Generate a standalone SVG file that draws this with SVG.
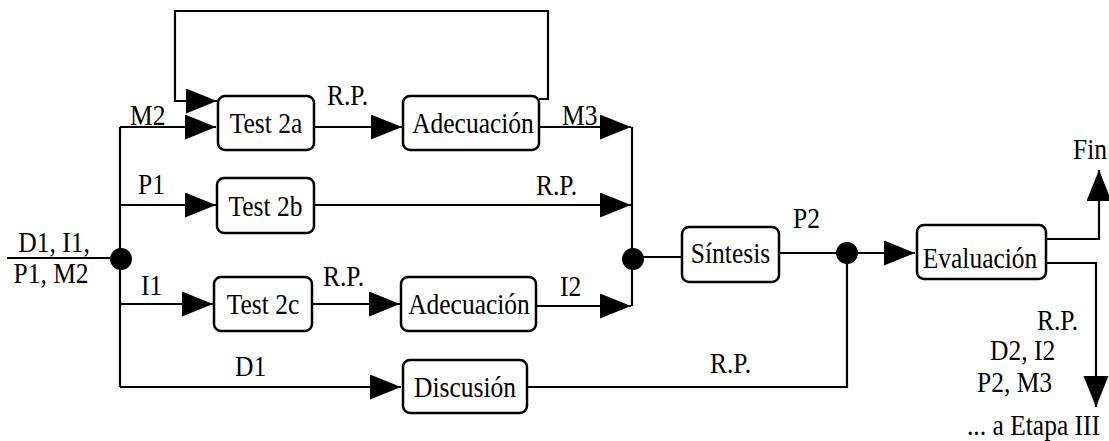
<svg xmlns="http://www.w3.org/2000/svg" width="1109" height="441" viewBox="0 0 1109 441" font-family="'Liberation Serif', 'Times New Roman', Times, serif" font-size="25.5">
<style>
text{font-family:'Liberation Serif','Times New Roman',Times,serif;font-size:25.5px;fill:#000}
.c{text-anchor:middle}
.box{fill:#fff;stroke:#000;stroke-width:2.5}
.ln{fill:none;stroke:#000;stroke-width:2.2}
.ar{fill:none;stroke:#000;stroke-width:2.2;marker-end:url(#ah)}
</style>
<defs>
<marker id="ah" markerUnits="userSpaceOnUse" markerWidth="32" markerHeight="26" refX="31" refY="12.5" orient="auto">
<path d="M0,0 L31,12.5 L0,25 z" fill="#000"/>
</marker>
</defs>
<rect width="1109" height="441" fill="#fff"/>
<g id="connectors">
<path class="ln" d="M7,258 H110"/>
<path class="ln" d="M120,127 V387"/>
<path class="ar" d="M120,127 H216"/>
<path class="ar" d="M120,205 H216"/>
<path class="ar" d="M120,304 H213"/>
<path class="ar" d="M120,387 H401"/>
<path class="ar" d="M314,127 H402"/>
<path class="ar" d="M539,99 H548 V11 H175 V101 H217"/>
<path class="ar" d="M539,127 H631"/>
<path class="ar" d="M314,205 H631"/>
<path class="ar" d="M312,304 H400"/>
<path class="ar" d="M536,306 H631"/>
<path class="ln" d="M632,127 V306"/>
<path class="ln" d="M633,257 H682"/>
<path class="ln" d="M779,253 H847"/>
<path class="ar" d="M847,253 H915"/>
<path class="ln" d="M527,387 H847 V253"/>
<path class="ar" d="M1046,239 H1099 V170"/>
<path class="ar" d="M1046,263 H1096 V407"/>
<circle cx="121" cy="259" r="11" fill="#000"/>
<circle cx="633" cy="259" r="11" fill="#000"/>
<circle cx="847" cy="253" r="11" fill="#000"/>
<text font-family="Liberation Serif" transform="translate(54,252) scale(1,1.15)" class="c">D1, I1,</text>
<text font-family="Liberation Serif" transform="translate(51,283) scale(1,1.15)" class="c">P1, M2</text>
<text font-family="Liberation Serif" transform="translate(130,125) scale(1,1.15)">M2</text>
<text font-family="Liberation Serif" transform="translate(138,194) scale(1,1.15)">P1</text>
<text font-family="Liberation Serif" transform="translate(141,295) scale(1,1.15)">I1</text>
<text font-family="Liberation Serif" transform="translate(235,376) scale(1,1.15)">D1</text>
<text font-family="Liberation Serif" transform="translate(327,105) scale(1,1.15)">R.P.</text>
<text font-family="Liberation Serif" transform="translate(562,125) scale(1,1.15)">M3</text>
<text font-family="Liberation Serif" transform="translate(536,195) scale(1,1.15)">R.P.</text>
<text font-family="Liberation Serif" transform="translate(323,286) scale(1,1.15)">R.P.</text>
<text font-family="Liberation Serif" transform="translate(560,296) scale(1,1.15)">I2</text>
<text font-family="Liberation Serif" transform="translate(793,228) scale(1,1.15)">P2</text>
<text font-family="Liberation Serif" transform="translate(710,373) scale(1,1.15)">R.P.</text>
<text font-family="Liberation Serif" transform="translate(1073,159) scale(1,1.15)">Fin</text>
<text font-family="Liberation Serif" transform="translate(1037,330) scale(1,1.15)">R.P.</text>
<text font-family="Liberation Serif" transform="translate(990,360) scale(1,1.15)">D2, I2</text>
<text font-family="Liberation Serif" transform="translate(977,392) scale(1,1.15)">P2, M3</text>
<text font-family="Liberation Serif" transform="translate(967,435) scale(1,1.15)">... a Etapa III</text>
</g>
<g id="test2a"><rect class="box" x="218" y="96" width="96" height="54" rx="7"/><text font-family="Liberation Serif" class="c" transform="translate(266,133) scale(1,1.15)">Test 2a</text></g>
<g id="adecuacion1"><rect class="box" x="403" y="96" width="136" height="54" rx="7"/><text font-family="Liberation Serif" class="c" transform="translate(473,133) scale(1,1.15)">Adecuación</text></g>
<g id="test2b"><rect class="box" x="217" y="178" width="97" height="55" rx="7"/><text font-family="Liberation Serif" class="c" transform="translate(265.5,216) scale(1,1.15)">Test 2b</text></g>
<g id="test2c"><rect class="box" x="214" y="277" width="98" height="54" rx="7"/><text font-family="Liberation Serif" class="c" transform="translate(263,314) scale(1,1.15)">Test 2c</text></g>
<g id="adecuacion2"><rect class="box" x="401" y="277" width="135" height="54" rx="7"/><text font-family="Liberation Serif" class="c" transform="translate(469,314) scale(1,1.15)">Adecuación</text></g>
<g id="discusion"><rect class="box" x="403" y="360" width="124" height="53" rx="7"/><text font-family="Liberation Serif" class="c" transform="translate(465,397) scale(1,1.15)">Discusión</text></g>
<g id="sintesis"><rect class="box" x="682" y="227" width="97" height="55" rx="7"/><text font-family="Liberation Serif" class="c" transform="translate(730.5,263) scale(1,1.15)">Síntesis</text></g>
<g id="evaluacion"><rect class="box" x="917" y="225" width="129" height="54" rx="7"/><text font-family="Liberation Serif" class="c" transform="translate(980,268) scale(1,1.15)">Evaluación</text></g>
</svg>
